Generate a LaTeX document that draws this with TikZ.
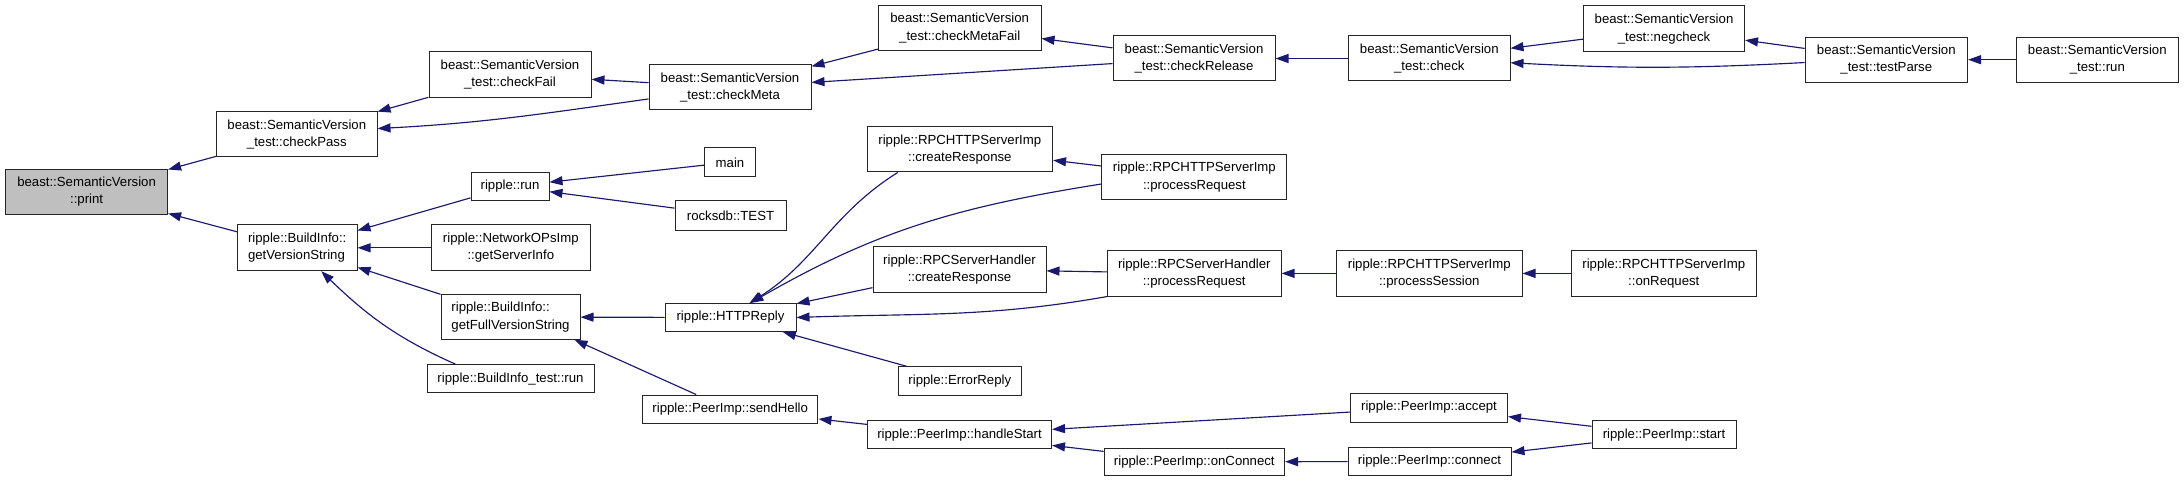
\documentclass[tikz,border=0pt]{standalone}
\usepackage{fontspec}
\setmainfont{Liberation Sans}
\usetikzlibrary{arrows.meta}
\definecolor{edgeblue}{RGB}{25,25,112}
\definecolor{nodegray}{RGB}{191,191,191}
\newcommand\nfont{\fontsize{13.2}{17.3}\selectfont}
\begin{document}
\begin{tikzpicture}[x=1pt,y=-1pt,
  box/.style={draw=black!85, line width=1pt, inner sep=0pt, align=center, font=\nfont},
  lbox/.style={box, align=left},
  edge/.style={draw=edgeblue, line width=1.15pt, -{Triangle[length=13pt,width=9pt]}}]
\useasboundingbox (0,0) rectangle (2184,481);
% nodes
\node[box, fill=nodegray, minimum width=162pt, minimum height=45pt] (print) at (86.6,191.8) {beast::SemanticVersion\\::print};
\node[box, minimum width=160.5pt, minimum height=45pt] (cpass) at (296.8,134.2) {beast::SemanticVersion\\\_test::checkPass};
\node[box, minimum width=162pt, minimum height=45.6pt] (cfail) at (510,74.5) {beast::SemanticVersion\\\_test::checkFail};
\node[box, minimum width=162pt, minimum height=45pt] (cmeta) at (730,87.5) {beast::SemanticVersion\\\_test::checkMeta};
\node[box, minimum width=162.6pt, minimum height=45.7pt] (cmfail) at (959.7,27.9) {beast::SemanticVersion\\\_test::checkMetaFail};
\node[box, minimum width=162pt, minimum height=45pt] (crel) at (1194,58.5) {beast::SemanticVersion\\\_test::checkRelease};
\node[box, minimum width=161.4pt, minimum height=45pt] (check) at (1429.3,58.5) {beast::SemanticVersion\\\_test::check};
\node[box, minimum width=161pt, minimum height=46pt] (neg) at (1664,29) {beast::SemanticVersion\\\_test::negcheck};
\node[box, minimum width=162.5pt, minimum height=45.3pt] (tparse) at (1886.3,59.7) {beast::SemanticVersion\\\_test::testParse};
\node[box, minimum width=162.5pt, minimum height=45.3pt] (svrun) at (2097.3,59.7) {beast::SemanticVersion\\\_test::run};
\node[lbox, minimum width=119.6pt, minimum height=45.7pt] (gvs) at (297.2,247.8) {ripple::BuildInfo::\\getVersionString};
\node[box, minimum width=78pt, minimum height=27.6pt] (riprun) at (510,186.5) {ripple::run};
\node[box, minimum width=50.7pt, minimum height=28.7pt] (main) at (730,162.3) {main};
\node[box, minimum width=111pt, minimum height=29pt] (rtest) at (730.5,215.5) {rocksdb::TEST};
\node[box, minimum width=158.4pt, minimum height=45.7pt] (netops) at (510.8,247.8) {ripple::NetworkOPsImp\\::getServerInfo};
\node[lbox, minimum width=139pt, minimum height=44.6pt] (gfull) at (510.5,317) {ripple::BuildInfo::\\getFullVersionString};
\node[box, minimum width=167pt, minimum height=28pt] (bitest) at (510.5,378.7) {ripple::BuildInfo\_test::run};
\node[box, minimum width=131pt, minimum height=28pt] (http) at (730.5,317.5) {ripple::HTTPReply};
\node[box, minimum width=175.5pt, minimum height=28.3pt] (hello) at (730.2,409.2) {ripple::PeerImp::sendHello};
\node[box, minimum width=185.5pt, minimum height=45.3pt] (rhcreate) at (959.8,149.3) {ripple::RPCHTTPServerImp\\::createResponse};
\node[box, minimum width=173pt, minimum height=45.3pt] (shcreate) at (959.5,269.4) {ripple::RPCServerHandler\\::createResponse};
\node[box, minimum width=122.5pt, minimum height=28.6pt] (err) at (959.8,381) {ripple::ErrorReply};
\node[box, minimum width=184pt, minimum height=28pt] (hstart) at (959.5,434.7) {ripple::PeerImp::handleStart};
\node[box, minimum width=185pt, minimum height=45.7pt] (rhproc) at (1194.4,177) {ripple::RPCHTTPServerImp\\::processRequest};
\node[box, minimum width=173.5pt, minimum height=45.3pt] (shproc) at (1194.3,273.4) {ripple::RPCServerHandler\\::processRequest};
\node[box, minimum width=180.5pt, minimum height=27.7pt] (onconn) at (1194.3,461.9) {ripple::PeerImp::onConnect};
\node[box, minimum width=185.4pt, minimum height=45.3pt] (psess) at (1429.3,273.4) {ripple::RPCHTTPServerImp\\::processSession};
\node[box, minimum width=157pt, minimum height=29pt] (accept) at (1429,407.5) {ripple::PeerImp::accept};
\node[box, minimum width=163pt, minimum height=28.7pt] (connect) at (1429.5,461.4) {ripple::PeerImp::connect};
\node[box, minimum width=185.5pt, minimum height=45.3pt] (onreq) at (1663.8,273.4) {ripple::RPCHTTPServerImp\\::onRequest};
\node[box, minimum width=144pt, minimum height=28pt] (start) at (1664,434.7) {ripple::PeerImp::start};
% edges
\draw[edge] (cpass) -- (print);
\draw[edge] (gvs) -- (print);
\draw[edge] (cfail) -- (cpass);
\draw[edge] (cmeta.188) to[out=188,in=3] (cpass.4);
\draw[edge] (cmeta) -- (cfail);
\draw[edge] (cmfail) -- (cmeta);
\draw[edge] (crel) -- (cmeta);
\draw[edge] (crel) -- (cmfail);
\draw[edge] (check) -- (crel);
\draw[edge] (neg) -- (check);
\draw[edge] (tparse.182) to[out=183,in=-3] (check.-3);
\draw[edge] (tparse) -- (neg);
\draw[edge] (svrun) -- (tparse);
\draw[edge] (riprun) -- (gvs);
\draw[edge] (main) -- (riprun);
\draw[edge] (rtest) -- (riprun);
\draw[edge] (netops) -- (gvs);
\draw[edge] (gfull) -- (gvs);
\draw[edge] ([xshift=-55pt]bitest.north) to[out=156,in=-44] ([xshift=24pt]gvs.south);
\draw[edge] (http) -- (gfull);
\draw[edge] ([xshift=-34pt]hello.north) -- ([xshift=-6pt]gfull.south east);
\draw[edge] ([xshift=-62pt]rhcreate.south) to[out=212,in=32] ([xshift=19pt]http.north);
\draw[edge] ([yshift=-7pt]rhproc.west) to[out=189,in=30] ([xshift=20pt]http.north);
\draw[edge] (rhproc) -- (rhcreate);
\draw[edge] (shcreate) -- (http);
\draw[edge] (shproc.south west) to[out=190,in=2] (http.east);
\draw[edge] (shproc) -- (shcreate);
\draw[edge] (psess) -- (shproc);
\draw[edge] (onreq) -- (psess);
\draw[edge] (err) -- (http);
\draw[edge] (hstart) -- (hello);
\draw[edge] (accept) -- (hstart);
\draw[edge] (onconn) -- (hstart);
\draw[edge] (connect) -- (onconn);
\draw[edge] (start) -- (accept);
\draw[edge] (start) -- (connect);
\end{tikzpicture}
\end{document}
